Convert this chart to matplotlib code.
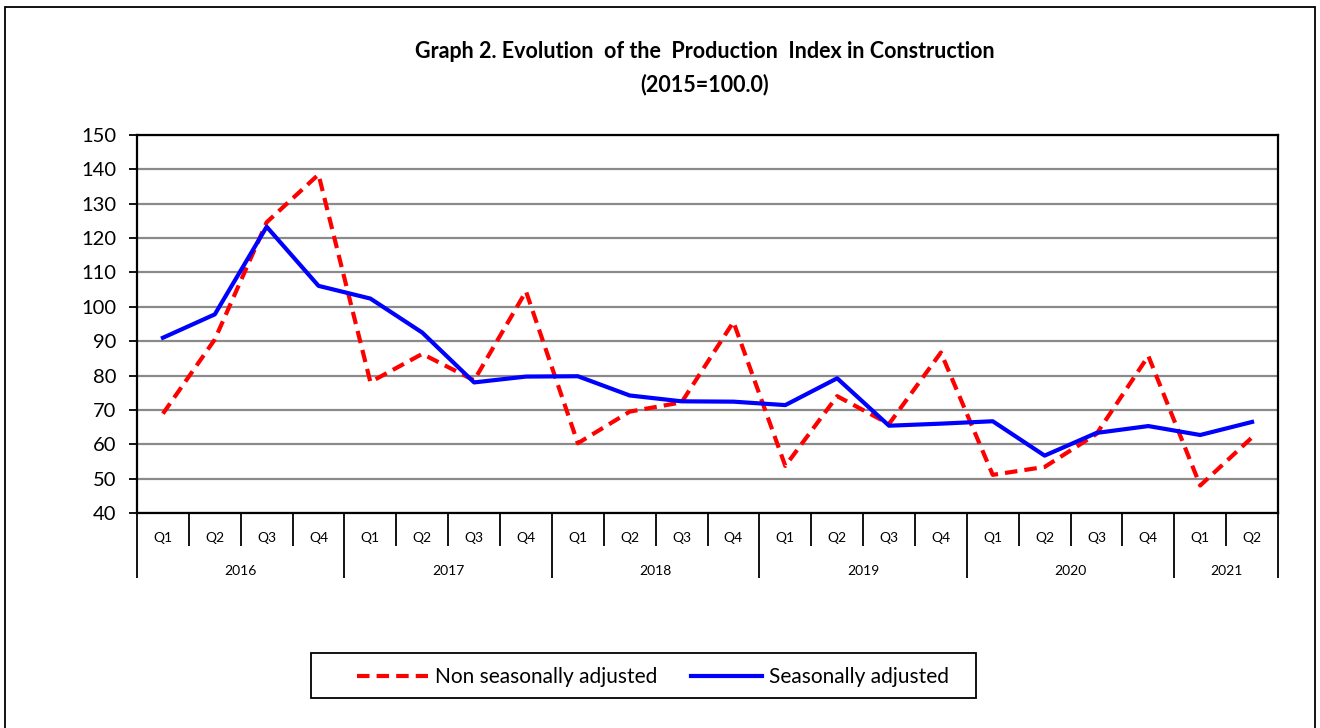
import numpy as np
import matplotlib
matplotlib.use("Agg")
import matplotlib.pyplot as plt
from matplotlib.patches import Rectangle
from matplotlib.transforms import blended_transform_factory

plt.rcParams['font.family'] = ['Lato', 'DejaVu Sans']

# data
years = ['2016', '2017', '2018', '2019', '2020', '2021']
quarters_per_year = [4, 4, 4, 4, 4, 2]
quarter_labels = ['Q1', 'Q2', 'Q3', 'Q4'] * 5 + ['Q1', 'Q2']

non_sa = [68.9, 90.5, 124.6, 138.5,
          78.1, 86.3, 78.6, 104.5,
          60.3, 69.5, 72.2, 95.6,
          53.7, 74.0, 65.9, 86.7,
          51.1, 53.4, 63.0, 85.7,
          48.0, 62.0]
sa = [91.0, 97.8, 123.3, 106.1,
      102.4, 92.5, 78.0, 79.7,
      79.8, 74.2, 72.5, 72.4,
      71.4, 79.2, 65.4, 66.0,
      66.7, 56.7, 63.3, 65.3,
      62.7, 66.5]

W, H = 1320, 728
fig = plt.figure(figsize=(W / 100, H / 100), dpi=100)

# outer frame of the chart
fig.patches.append(Rectangle((5 / W, -0.01), 1310 / W, 1 - 7 / H + 0.01,
                             transform=fig.transFigure, fill=False,
                             edgecolor='black', linewidth=1.3))

left, right, top, bottom = 137, 1278, 135, 513
ax = fig.add_axes([left / W, 1 - bottom / H, (right - left) / W, (bottom - top) / H])

x = np.arange(len(sa))
ax.plot(x, non_sa, color='#ff0000', lw=3, dashes=(3, 1.7), label='Non seasonally adjusted', zorder=3)
ax.plot(x, sa, color='#0000ff', lw=3, label='Seasonally adjusted', zorder=4)

ax.set_xlim(-0.5, len(sa) - 0.5)
ax.set_ylim(40, 150)
ax.set_yticks(np.arange(40, 151, 10))
ax.yaxis.grid(True, color='#8a8a8a', lw=1.6)
ax.set_axisbelow(True)
ax.tick_params(axis='y', labelsize=14.5, length=6, width=1.3, direction='out', pad=9)

for s in ax.spines.values():
    s.set_linewidth(1.6)
    s.set_color('black')

# category axis: quarter boundaries short, year boundaries long
bounds = np.arange(-0.5, len(sa), 1.0)
year_bounds = np.concatenate([[-0.5], np.cumsum(quarters_per_year) - 0.5])
ax.set_xticks(year_bounds)
ax.set_xticks([b for b in bounds if b not in year_bounds], minor=True)
ax.set_xticklabels([])
ax.tick_params(axis='x', which='major', length=47, width=1.3, direction='out')
ax.tick_params(axis='x', which='minor', length=23.5, width=1.3, direction='out')

trans = blended_transform_factory(ax.transData, fig.transFigure)
for i, q in enumerate(quarter_labels):
    ax.text(i, 1 - 538 / H, q, transform=trans, ha='center', va='center', fontsize=10)
for j, y in enumerate(years):
    mid = (year_bounds[j] + year_bounds[j + 1]) / 2
    ax.text(mid, 1 - 571 / H, y, transform=trans, ha='center', va='center', fontsize=10)

fig.text(705 / W, 1 - 52 / H, 'Graph 2. Evolution  of the  Production  Index in Construction',
         ha='center', va='center', fontsize=15.5, fontweight='bold')
fig.text(705 / W, 1 - 85 / H, '(2015=100.0)', ha='center', va='center',
         fontsize=15.5, fontweight='bold')

# legend box drawn by hand, entries placed inside it
fig.patches.append(Rectangle((311 / W, 1 - 698 / H), 665 / W, 45 / H,
                             transform=fig.transFigure, fill=False,
                             edgecolor='black', linewidth=1.3))
leg = fig.legend(loc='center left', bbox_to_anchor=(357 / W, 1 - 677 / H), ncol=2,
                 frameon=False, fontsize=15, handlelength=3.4, columnspacing=1.6,
                 borderpad=0, borderaxespad=0, handletextpad=0.35)

fig.savefig('out.png', dpi=100)
